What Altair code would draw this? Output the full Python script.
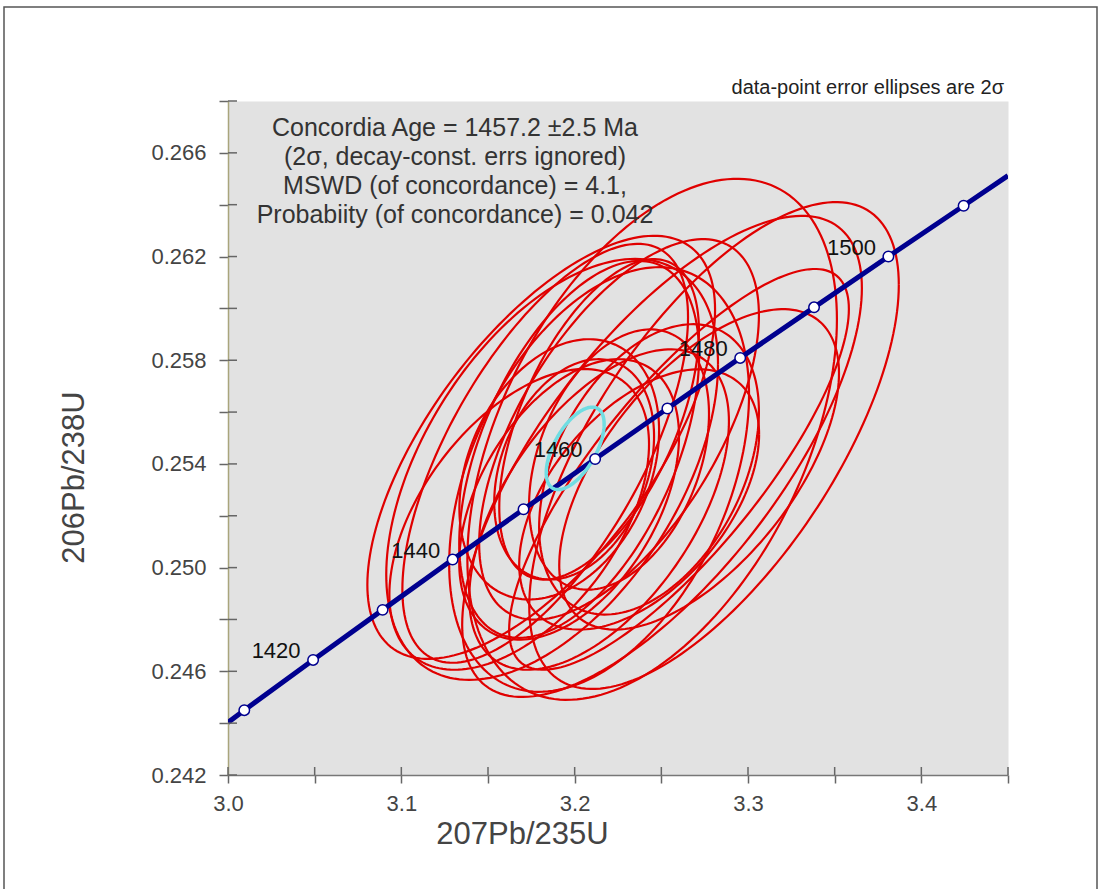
import numpy as np
import pandas as pd
import altair as alt

# ---------------- data ----------------
# concordia age marks (Ma) and their ratios
ages = [1410, 1420, 1430, 1440, 1450, 1460, 1470, 1480, 1490, 1500, 1510]
conc_x = [3.0094, 3.0491, 3.0892, 3.1296, 3.1705, 3.2118, 3.2535, 3.2955, 3.3381, 3.3810, 3.4244]
conc_y = [0.24450, 0.24644, 0.24837, 0.25031, 0.25225, 0.25419, 0.25614, 0.25809, 0.26004, 0.26200, 0.26396]
age_labels = [1420, 1440, 1460, 1480, 1500]
# concordia curve end points at the frame edges
curve_x = [3.0000] + conc_x + [3.4500]
curve_y = [0.24403] + conc_y + [0.26512]

# data-point error ellipses (2 sigma): centre, half-extent x, half-extent y, rho
ell_x = [3.2447, 3.2804, 3.1807, 3.1870, 3.1830, 3.2504, 3.2026, 3.2141, 3.2429, 3.1911,
         3.1997, 3.1680, 3.2141, 3.2602, 3.2256, 3.2141, 3.1968, 3.2372, 3.2718, 3.2256]
ell_y = [0.25495, 0.25471, 0.25464, 0.25379, 0.25441, 0.25429, 0.25456, 0.25340, 0.25379, 0.25379,
         0.25379, 0.25186, 0.25224, 0.25379, 0.25533, 0.25572, 0.25263, 0.25263, 0.25379, 0.25417]
ell_sx = [0.1066, 0.1066, 0.1003, 0.0957, 0.0824, 0.1153, 0.0692, 0.0865, 0.0634, 0.0576,
          0.0461, 0.0749, 0.0749, 0.0980, 0.0807, 0.0576, 0.0634, 0.0692, 0.0807, 0.0519]
ell_sy = [0.01005, 0.00939, 0.00816, 0.00812, 0.00808, 0.00928, 0.00727, 0.00819, 0.00560, 0.00502,
          0.00425, 0.00580, 0.00618, 0.00773, 0.00734, 0.00618, 0.00541, 0.00502, 0.00618, 0.00502]
ell_rho = [0.46, 0.66, 0.65, 0.50, 0.65, 0.70, 0.50, 0.40, 0.40, 0.30,
           0.30, 0.50, 0.55, 0.80, 0.60, 0.55, 0.45, 0.50, 0.60, 0.35]

# concordia age ellipse
cc_x, cc_y, cc_sx, cc_sy, cc_rho = 3.2003, 0.2546, 0.0167, 0.00159, 0.59

x_ticks = [3.0, 3.05, 3.1, 3.15, 3.2, 3.25, 3.3, 3.35, 3.4, 3.45]
y_ticks = [0.242, 0.244, 0.246, 0.248, 0.250, 0.252, 0.254, 0.256, 0.258, 0.260,
           0.262, 0.264, 0.266, 0.268]

info_text = ("Concordia Age = 1457.2 \u00b12.5 Ma\n(2\u03c3, decay-const. errs ignored)\n"
             "MSWD (of concordance) = 4.1,\nProbabiity (of concordance) = 0.042")
note_text = "data-point error ellipses are 2\u03c3"

# ---------------- build tables ----------------
theta = np.linspace(0, 2 * np.pi, 181)


def ellipse_rows(i, cx, cy, sx, sy, rho):
    rows = []
    for k, t in enumerate(theta):
        rows.append({"id": i, "k": k,
                     "x": cx + sx * np.cos(t),
                     "y": cy + sy * (rho * np.cos(t) + np.sqrt(1 - rho ** 2) * np.sin(t))})
    return rows


rows = []
for i in range(len(ell_x)):
    rows += ellipse_rows(i, ell_x[i], ell_y[i], ell_sx[i], ell_sy[i], ell_rho[i])
ell_df = pd.DataFrame(rows)
cc_df = pd.DataFrame(ellipse_rows(0, cc_x, cc_y, cc_sx, cc_sy, cc_rho))

curve_df = pd.DataFrame({"x": curve_x, "y": curve_y, "k": range(len(curve_x))})
dots_df = pd.DataFrame({"age": ages, "x": conc_x, "y": conc_y})
lab_df = dots_df[dots_df["age"].isin(age_labels)]
xt_df = pd.DataFrame({"v": x_ticks})
yt_df = pd.DataFrame({"v": y_ticks})

FONT = "Liberation Sans"
xs = alt.Scale(domain=[3.0, 3.45], nice=False, zero=False)
ys = alt.Scale(domain=[0.242, 0.268], nice=False, zero=False)

x_axis = alt.Axis(values=x_ticks, grid=False, tickSize=8, tickColor="#666", domainColor="#777",
                  domainWidth=1.5, tickWidth=1.5, labelFlush=False,
                  labelExpr="abs(datum.value*10 - round(datum.value*10)) < 0.01 ? format(datum.value, '.1f') : ''",
                  labelFont=FONT, labelFontSize=22, labelColor="#444", labelPadding=10,
                  title="207Pb/235U", titleFont=FONT, titleFontSize=31, titleFontWeight="normal",
                  titleColor="#444", titlePadding=5, titleX=294)
y_axis = alt.Axis(values=y_ticks, grid=False, tickSize=9, tickColor="#666", domainColor="#a9a57c",
                  domainWidth=1.5, tickWidth=1.5, labelFlush=False,
                  labelExpr="round((datum.value-0.242)*500) % 2 == 0 ? format(datum.value, '.3f') : ''",
                  labelFont=FONT, labelFontSize=22, labelColor="#444", labelPadding=13,
                  title="206Pb/238U", titleFont=FONT, titleFontSize=31, titleFontWeight="normal",
                  titleColor="#444", titlePadding=60, titleY=376)

base_x = alt.X("x:Q", scale=xs, axis=x_axis)
base_y = alt.Y("y:Q", scale=ys, axis=y_axis)

ellipses = alt.Chart(ell_df).mark_line(color="#e00000", strokeWidth=2.2, clip=True).encode(
    x=base_x, y=base_y, detail="id:N", order="k:Q")

curve = alt.Chart(curve_df).mark_line(color="#00008f", strokeWidth=5, clip=True).encode(
    x=alt.X("x:Q", scale=xs), y=alt.Y("y:Q", scale=ys), order="k:Q")

cc = alt.Chart(cc_df).mark_line(color="#70dde2", strokeWidth=3.5).encode(
    x=alt.X("x:Q", scale=xs), y=alt.Y("y:Q", scale=ys), order="k:Q")

dots = alt.Chart(dots_df).mark_point(filled=True, fill="white", stroke="#00008f",
                                     strokeWidth=1.5, size=110, opacity=1).encode(
    x=alt.X("x:Q", scale=xs), y=alt.Y("y:Q", scale=ys))

labels = alt.Chart(lab_df).mark_text(font=FONT, fontSize=22, color="#111", dx=-37, dy=-9).encode(
    x=alt.X("x:Q", scale=xs), y=alt.Y("y:Q", scale=ys), text="age:N")

# inner halves of the crossing axis ticks
xt_in = alt.Chart(xt_df).mark_rule(color="#666", strokeWidth=1.5).encode(
    x=alt.X("v:Q", scale=xs), y=alt.value(666), y2=alt.value(674))
yt_in = alt.Chart(yt_df).mark_rule(color="#666", strokeWidth=1.5).encode(
    y=alt.Y("v:Q", scale=ys), x=alt.value(0), x2=alt.value(9))

info = alt.Chart(pd.DataFrame({"t": [info_text]})).mark_text(
    font=FONT, fontSize=25, color="#333", lineBreak="\n", lineHeight=29, align="center",
    baseline="middle").encode(x=alt.value(227), y=alt.value(27), text="t:N")

note = alt.Chart(pd.DataFrame({"t": [note_text]})).mark_text(
    font=FONT, fontSize=20, color="#222", align="right", baseline="middle").encode(
    x=alt.value(776), y=alt.value(-13), text="t:N")

frame = alt.Chart(pd.DataFrame({"a": [0]})).mark_rect(filled=False, stroke="#555", strokeWidth=1.5).encode(
    x=alt.value(-224), x2=alt.value(869), y=alt.value(-94), y2=alt.value(820))

chart = alt.layer(ellipses, curve, cc, dots, labels, xt_in, yt_in, info, note, frame).properties(
    width=780, height=674,
    autosize=alt.AutoSizeParams(type="none"),
    padding={"left": 228, "top": 101, "right": 90, "bottom": 114},
    background="white",
).configure_view(fill="#e2e2e2", stroke="transparent")

chart.save("out.html", embed_options={"renderer": "svg", "actions": False})
